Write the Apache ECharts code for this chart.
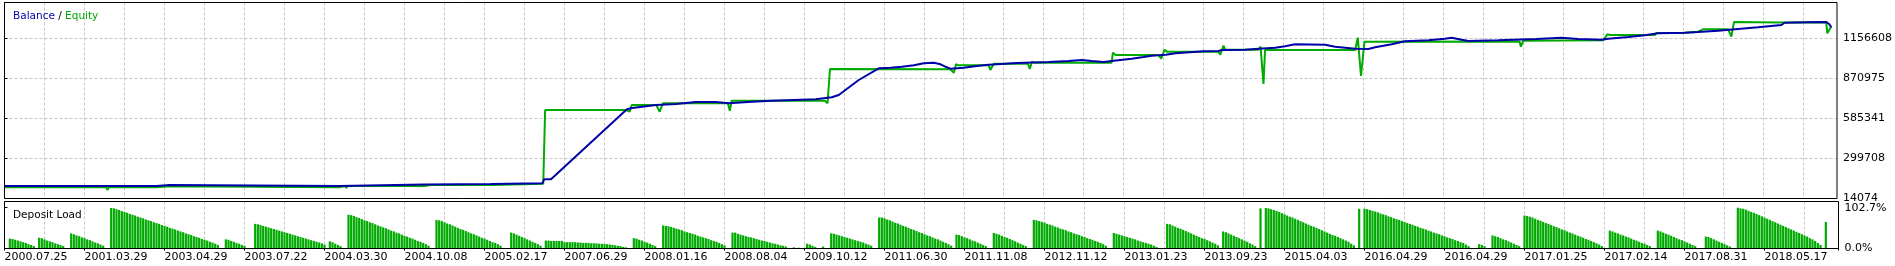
<!DOCTYPE html>
<html><head><meta charset="utf-8">
<script src="https://cdn.jsdelivr.net/npm/echarts@6/dist/echarts.min.js"></script>
<style>html,body{margin:0;padding:0;background:#fff}#c{width:1895px;height:266px}</style>
</head><body><div id="c"></div>
<script>
// ---- data (x = trade number, y = account value) ----
const dateLabels = ['2000.07.25','2001.03.29','2003.04.29','2003.07.22','2004.03.30','2004.10.08','2005.02.17','2007.06.29','2008.01.16','2008.08.04','2009.10.12','2011.06.30','2011.11.08','2012.11.12','2013.01.23','2013.09.23','2015.04.03','2016.04.29','2016.04.29','2017.01.25','2017.02.14','2017.08.31','2018.05.17'];
const labelEvery = 30;          // trades between date labels
const gridEvery = 15;           // trades between vertical grid lines
const tradeMax = 687.75;
const yTickLabels = ['14074','299708','585341','870975','1156608'];
const yMin = 14074;
const yStep = 285633.5;
const yMaxAbove = 1399604;      // axis top, measured above yMin
const loadTickValues = [0, 102.7];
const loadTickLabels = ['0.0%', '102.7%'];
const loadMax = 118.3;

const balancePts = [[0,104000],[57,104000],[57.5,111000],[62,111000],[62.5,104000],[125.6,104000],[126,113500],[157.5,113500],[158,118500],[182.6,118500],[183,123000],[201.9,123000],[202.5,151200],[205.1,151200],[233.6,651000],[235.5,660300],[239.3,669600],[244.5,681700],[252,688900],[259.5,703200],[267,703200],[271.9,693900],[280.5,705300],[288,712400],[304.5,722400],[310.5,736700],[313.1,753200],[320.6,860300],[328.1,943800],[332.5,948100],[336.8,955200],[341.3,965200],[345,979500],[348.8,983800],[351.3,972400],[353.1,955200],[355,941000],[360,948100],[365.6,962400],[369.4,969500],[375.6,976700],[379.9,981700],[391.9,988800],[399.4,995900],[404.3,1003100],[408,995900],[412.5,988800],[416.3,998100],[423,1012400],[427.5,1024500],[430.5,1033800],[435.8,1040900],[439.5,1050900],[446.3,1060200],[450,1065000],[455.6,1067300],[456.9,1074500],[465.6,1076600],[470.6,1083800],[476.9,1090900],[480.6,1100900],[484.4,1115200],[495.6,1112300],[499.4,1098100],[506.9,1083800],[511.9,1081600],[514.4,1093800],[520.6,1115200],[525.6,1136600],[534.4,1143800],[540.6,1155200],[543.1,1162300],[546.9,1148000],[549.4,1138800],[560.6,1143800],[575,1153000],[584.4,1162300],[590.6,1153000],[599.4,1148000],[601.9,1155200],[609.4,1167300],[615.6,1179500],[620.6,1193700],[630.6,1198000],[635.6,1203000],[643.1,1212300],[650.6,1224400],[658.1,1236600],[666.9,1253000],[668.1,1269400],[676.9,1272300],[683.7,1274400],[684.8,1260200],[685.6,1236600]];

const equityPts = [[0,94000],[38.2,94000],[38.6,75000],[39.2,94000],[57,94000],[57.5,101000],[62,101000],[62.5,94000],[125.6,94000],[126,104000],[127.9,104000],[128.3,89000],[128.8,104000],[157.5,104000],[158,110000],[160.1,110000],[160.5,104000],[160.9,110000],[182.6,110000],[183,119800],[202.2,119800],[202.9,646000],[233.3,646000],[234.6,633900],[235.4,681700],[244.6,681700],[245.9,633900],[247.1,693900],[271.5,693900],[272.2,641000],[272.9,712400],[307.9,712400],[308.9,693900],[309.8,938800],[355,936700],[356.3,912400],[357.1,972400],[358,965200],[369.4,965200],[370,931700],[371.3,976700],[384.1,976700],[384.8,938800],[385.6,990900],[386.5,983800],[415.5,983800],[416,1055200],[417,1038800],[433.1,1038800],[434.1,1012400],[435.4,1076600],[436.3,1062300],[455.6,1062300],[456.3,1040900],[457.5,1105200],[458.1,1076600],[470.6,1076600],[471.4,1098100],[472.5,831700],[473.1,1074500],[506.9,1074500],[507.9,1162300],[509.1,888800],[510.4,1133800],[568.6,1136000],[569.1,1098100],[570,1140900],[600,1143800],[601.6,1186600],[602.5,1181600],[619.4,1181600],[620,1195900],[629.4,1195900],[635.6,1205200],[637.5,1222300],[646.9,1222300],[648.1,1169500],[649.1,1274400],[666.9,1270000],[683.7,1272300],[684.1,1193700],[685,1222300],[685.6,1240900]];

// deposit load: first trade number of each run, and the bar values (%) of that run
const loadStarts = [2,13,25,40,83,94,122,129,162,190,203,236,247,273,296,298,301,307,310,328,357,371,386,416,436,457,471,473,508,510,553,558,570,602,620,638,650,683];
const loadValues = [
 [25,24,22,20,18,16,14,11,9,6],
 [27,26,23,20,18,16,13,11,9,6],
 [38,36,33,31,28,26,23,21,18,15,13,10,7],
 [102,101,99,97,94,92,90,87,85,83,80,78,76,73,71,69,66,64,62,59,57,55,52,50,48,45,43,41,38,36,34,31,29,27,24,22,20,17,15,12,9],
 [23,22,19,17,14,12,9,7],
 [62,61,59,57,55,53,51,49,47,45,43,41,39,37,35,33,31,29,27,25,23,21,19,17,15,13,10],
 [18,16,12,9,6],
 [85,84,82,79,77,74,71,69,66,64,61,58,56,53,51,48,45,43,40,38,35,32,30,27,25,22,19,17,14,11,7],
 [72,71,69,66,63,61,58,55,52,49,47,44,41,38,36,33,30,27,25,22,19,16,14,11,7],
 [40,38,35,32,29,26,23,20,17,14,11,7],
 [20,20,19,19,19,19,19,16,16,16,16,16,15,15,14,14,14,13,13,13,12,12,11,11,10,9,8,7,6,4,3],
 [26,25,22,20,17,15,12,9,6],
 [58,57,56,54,52,50,48,46,43,41,39,37,35,32,30,28,26,24,21,19,17,14,11,8],
 [40,40,37,35,33,31,29,28,26,24,22,20,19,17,15,13,12,10,8,7,5],
 [3],
 [2],
 [12,10,7,4],
 [5],
 [38,37,35,33,31,29,27,25,23,21,19,17,15,12,10,7],
 [78,78,76,73,71,68,65,63,60,57,55,52,49,47,44,41,39,36,33,31,28,25,23,20,17,14,11,7],
 [35,34,31,28,26,23,20,18,15,12,9,6],
 [39,37,35,32,29,27,24,21,18,15,12,9,6],
 [72,71,69,67,65,62,60,58,55,53,50,48,46,43,41,38,36,34,31,29,26,24,22,19,17,14,11,7],
 [39,37,35,33,31,29,27,25,23,20,18,16,14,12,10,7,4],
 [62,61,58,55,52,50,47,44,41,38,35,32,29,26,24,21,18,15,12,8],
 [43,41,38,35,32,29,26,23,20,17,13,10,6],
 [101],
 [102,101,99,97,95,92,89,86,83,80,78,75,72,69,66,63,60,57,55,52,49,46,43,40,37,34,32,29,26,23,20,17,12,8],
 [100],
 [100,99,97,95,93,91,88,86,84,81,79,76,74,72,69,67,64,62,60,57,55,52,50,48,45,43,40,38,36,33,31,28,26,24,21,19,16,14,10,6],
 [11,9,6],
 [33,31,29,26,23,21,18,15,12,9,6],
 [83,82,80,78,75,72,70,67,64,62,59,56,54,51,48,46,43,40,38,35,32,30,27,24,22,19,16,13,10,6],
 [45,43,40,38,35,33,30,28,25,22,20,17,14,12,9,6],
 [45,43,40,37,35,32,29,26,23,21,18,15,12,9,6],
 [30,29,26,23,20,17,14,11,8,5],
 [102.7,101,100,98,95,92,90,87,84,81,78,75,72,69,66,63,60,57,54,51,48,45,42,39,36,33,30,26,23,19,14,9],
 [67]
];

// ---- build ----
const FONT = 'DejaVu Sans';
const BLUE = '#0000aa', GREEN = '#00aa00';
const loadData = [];
loadStarts.forEach((s, g) => loadValues[g].forEach((v, i) => loadData.push([s + i, v])));
const shift = pts => pts.map(p => [p[0], p[1] - yMin]);

const dashed = {show: true, showMinLine: false, showMaxLine: false, lineStyle: {color: '#c6c6c6', width: 1, type: [3, 2]}};
const splitX = (gi) => ({gridIndex: gi, type: 'value', min: 0, max: tradeMax, interval: gridEvery, position: 'top',
  axisLine: {show: false}, axisTick: {show: false}, axisLabel: {show: false}, splitLine: dashed});

const chart = echarts.init(document.getElementById('c'), null, {renderer: 'canvas'});
chart.setOption({
  animation: false,
  backgroundColor: '#fff',
  textStyle: {fontFamily: FONT},
  title: [
    {left: 8, top: 6, text: '{b|Balance} / {e|Equity}',
     textStyle: {fontSize: 10.5, fontWeight: 'normal', color: '#000', fontFamily: FONT,
       rich: {b: {color: BLUE, fontSize: 10.5, fontFamily: FONT}, e: {color: GREEN, fontSize: 10.5, fontFamily: FONT}}}},
    {left: 8, top: 205, text: 'Deposit Load',
     textStyle: {fontSize: 10.5, fontWeight: 'normal', color: '#000', fontFamily: FONT}}
  ],
  grid: [
    {left: 4.5, right: 56.5, top: 2.5, height: 196, show: true, borderColor: '#000', borderWidth: 1, z: 5},
    {left: 4.5, right: 56.5, top: 201.5, height: 47, show: true, borderColor: '#000', borderWidth: 1, z: 5}
  ],
  xAxis: [
    splitX(0),
    splitX(1),
    {gridIndex: 1, type: 'value', min: 0, max: tradeMax, interval: labelEvery, position: 'bottom',
     axisLine: {show: true, lineStyle: {color: '#000', width: 1}},
     axisTick: {show: true, length: 2, lineStyle: {color: '#000'}},
     splitLine: {show: false},
     axisLabel: {show: true, align: 'left', margin: 3, color: '#000', fontSize: 11, fontFamily: FONT,
       formatter: v => { const i = Math.round(v / labelEvery); return (Math.abs(v - i * labelEvery) < 1e-6 && i < dateLabels.length) ? dateLabels[i] : ''; }}}
  ],
  yAxis: [
    {gridIndex: 0, type: 'value', position: 'right', min: 0, max: yMaxAbove, interval: yStep,
     axisLine: {show: false}, axisTick: {show: true, length: 3, lineStyle: {color: '#000'}},
     splitLine: dashed,
     axisLabel: {margin: 6, color: '#000', fontSize: 11, fontFamily: FONT,
       formatter: v => { const i = Math.round(v / yStep); return (Math.abs(v - i * yStep) < 1 && i < yTickLabels.length) ? yTickLabels[i] : ''; }}},
    {gridIndex: 1, type: 'value', position: 'right', min: 0, max: loadMax, interval: loadTickValues[1],
     axisLine: {show: false}, axisTick: {show: true, length: 3, lineStyle: {color: '#000'}},
     splitLine: {show: false},
     axisLabel: {margin: 6, color: '#000', fontSize: 11, fontFamily: FONT,
       formatter: v => { const i = loadTickValues.findIndex(t => Math.abs(t - v) < 0.01); return i >= 0 ? loadTickLabels[i] : ''; }}}
  ],
  series: [
    {name: 'Equity', type: 'line', xAxisIndex: 0, yAxisIndex: 0, data: shift(equityPts),
     showSymbol: false, symbol: 'none', lineStyle: {color: GREEN, width: 2}, itemStyle: {color: GREEN}, z: 2},
    {name: 'Balance', type: 'line', xAxisIndex: 0, yAxisIndex: 0, data: shift(balancePts),
     showSymbol: false, symbol: 'none', lineStyle: {color: BLUE, width: 2}, itemStyle: {color: BLUE}, z: 3},
    {name: 'Deposit Load', type: 'bar', xAxisIndex: 1, yAxisIndex: 1, data: loadData,
     barWidth: 2.2, itemStyle: {color: GREEN}}
  ]
});
</script></body></html>
